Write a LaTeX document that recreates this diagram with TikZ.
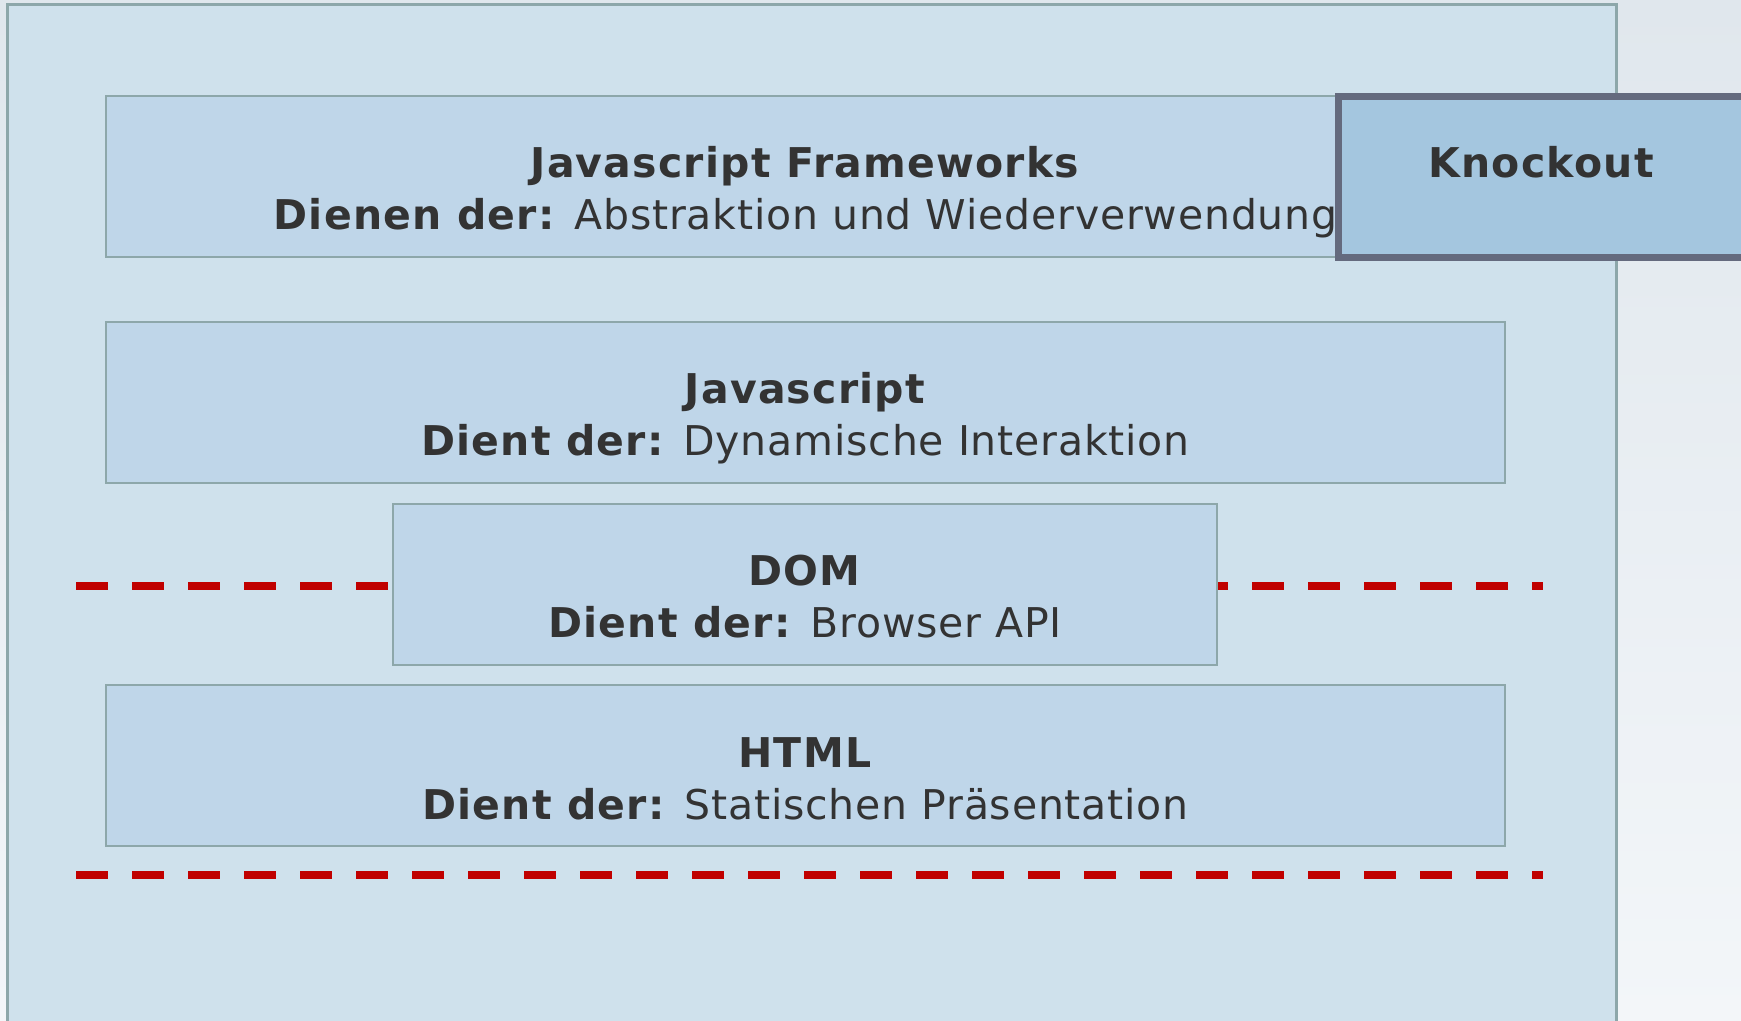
\documentclass[tikz,border=0pt]{standalone}
\usepackage{fontspec}
\setmainfont{DejaVu Sans}[LetterSpace=2, BoldFeatures={LetterSpace=3}]
\usetikzlibrary{positioning,calc}

\definecolor{bgtop}{HTML}{E0E7ED}
\definecolor{bgbot}{HTML}{F3F6F9}
\definecolor{stackfill}{HTML}{CFE1EC}
\definecolor{layerfill}{HTML}{BFD6E9}
\definecolor{layerline}{HTML}{8DA7AA}
\definecolor{knockfill}{HTML}{A4C6DF}
\definecolor{knockline}{HTML}{646A7E}
\definecolor{cutred}{HTML}{C00000}
\definecolor{ink}{HTML}{333333}

\tikzset{
  stack/.style={draw=layerline, line width=1.5pt, fill=stackfill, anchor=north west,
    inner sep=0pt, outer sep=0pt, minimum width=804.5pt, minimum height=512.5pt},
  layer/.style={draw=layerline, line width=1.25pt, fill=layerfill, anchor=north west,
    inner sep=0pt, outer sep=0pt, minimum height=80.5pt},
  knockbox/.style={draw=knockline, line width=3.5pt, fill=knockfill, anchor=north west,
    inner sep=0pt, outer sep=0pt, minimum width=203.25pt, minimum height=80.5pt},
  lbl/.style={anchor=base, inner sep=0pt, text=ink, font=\fontsize{20.5}{24}\selectfont},
  cut/.style={draw=cutred, line width=4pt, dash pattern=on 16pt off 12pt}
}

\begin{document}
\begin{tikzpicture}[x=0.5pt, y=-0.5pt]

  \clip (0,0) rectangle (1741,1021);
  \fill[top color=bgtop, bottom color=bgbot] (0,0) rectangle (1741,1021);

  \node[stack] (browser) at (7,5) {};

  \node[layer, minimum width=699.5pt] (frameworks) at (106,96) {};
  \node[layer, minimum width=699.5pt] (javascript) at (106,322) {};

  % Trennlinie hinter dem DOM
  \coordinate (cut1w) at (76,586);
  \coordinate (cut1e) at (1543,586);
  \draw[cut] (cut1w) -- (cut1e);

  \node[layer, minimum width=412pt] (dom) at (393,504) {};
  \node[layer, minimum width=699.5pt] (html) at (106,685) {};

  \coordinate (cut2w) at (76,875);
  \coordinate (cut2e) at (1543,875);
  \draw[cut] (cut2w) -- (cut2e);

  \node[knockbox] (knockout) at (1338.5,96.5) {};

  \node[lbl] (fwtitle) at ($ (frameworks.north)+(0,82) $) {\textbf{Javascript Frameworks}};
  \node[lbl] (fwtext)  at ($ (frameworks.north)+(0,134) $) {\textbf{Dienen der:} Abstraktion und Wiederverwendung};

  \node[lbl] (jstitle) at ($ (javascript.north)+(0,82) $) {\textbf{Javascript}};
  \node[lbl] (jstext)  at ($ (javascript.north)+(0,134) $) {\textbf{Dient der:} Dynamische Interaktion};

  \node[lbl] (domtitle) at ($ (dom.north)+(0,82) $) {\textbf{DOM}};
  \node[lbl] (domtext)  at ($ (dom.north)+(0,134) $) {\textbf{Dient der:} Browser API};

  \node[lbl] (htmltitle) at ($ (html.north)+(0,82) $) {\textbf{HTML}};
  \node[lbl] (htmltext)  at ($ (html.north)+(0,134) $) {\textbf{Dient der:} Statischen Präsentation};

  \node[lbl] (kotitle) at ($ (knockout.north)+(0,81.5) $) {\textbf{Knockout}};

\end{tikzpicture}
\end{document}
